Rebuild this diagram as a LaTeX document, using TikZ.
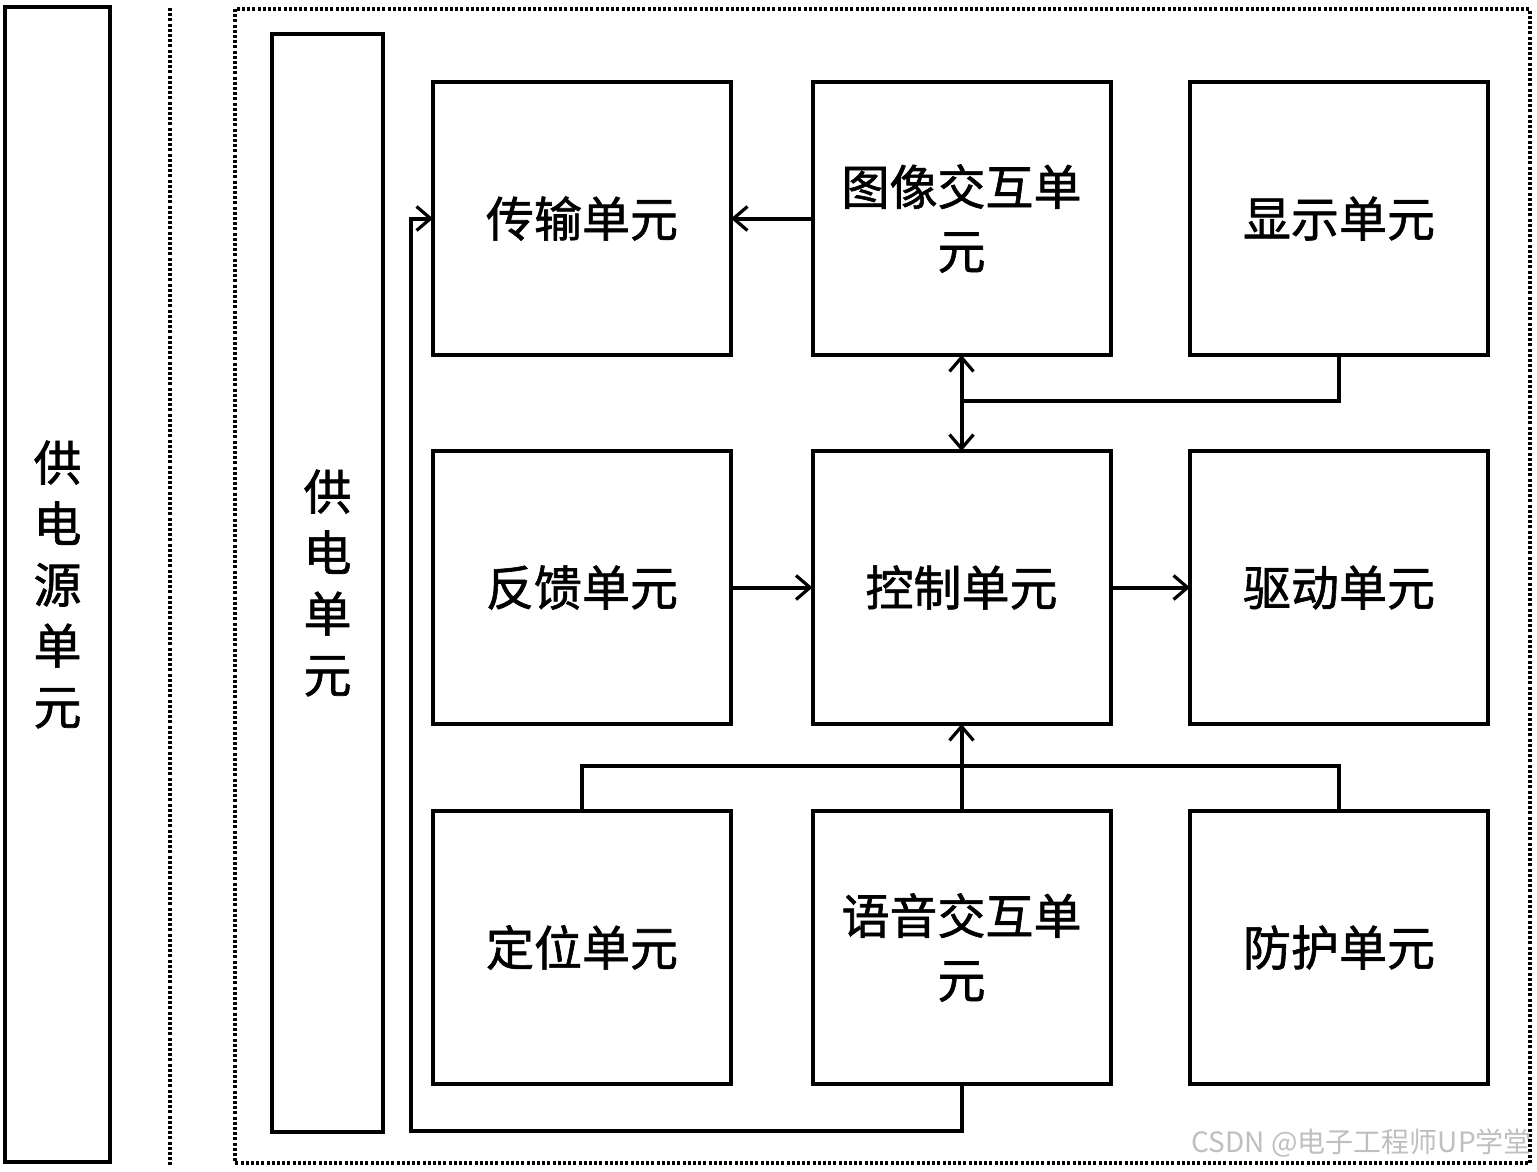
\documentclass[tikz,border=0pt]{standalone}
\usepackage{fontspec}
\newfontfamily\cjk[FakeBold=1.3]{Noto Sans CJK SC}
\newfontfamily\cjkwm{Noto Sans CJK SC}
\usetikzlibrary{arrows.meta}
\begin{document}
\begin{tikzpicture}[x=1pt,y=-1pt,
  unitbox/.style={draw,line width=4pt,minimum width=298pt,minimum height=273pt,outer sep=0pt,
    align=center,font=\cjk\fontsize{48}{64}\selectfont},
  tallbox/.style={draw,line width=4pt,outer sep=0pt,align=center,font=\cjk\fontsize{48}{61}\selectfont},
  ln/.style={line width=4pt},
  arr/.style={line width=4pt,-{Straight Barb[length=14pt,width=24pt,line width=3.2pt]}},
  arrb/.style={line width=4pt,{Straight Barb[length=14pt,width=24pt,line width=3.2pt]}-{Straight Barb[length=14pt,width=24pt,line width=3.2pt]}},
  dotline/.style={line width=3.2pt,dash pattern=on 3pt off 2.2pt}]
\useasboundingbox (0,0) rectangle (1537,1171);
% left power source
\node[tallbox,minimum width=105pt,minimum height=1155pt] (src) at (57.5,584.5) {供\\电\\源\\单\\元};
\coordinate (dl1) at (170,8);
\coordinate (dl2) at (170,1166);
\draw[dotline] (dl1) -- (dl2);
\coordinate (fr1) at (235,9);
\coordinate (fr2) at (1530,1163);
\draw[dotline] (fr1) rectangle (fr2);
% power unit
\node[tallbox,minimum width=111pt,minimum height=1098pt] (pwr) at (327.5,583) {供\\电\\单\\元};
% grid
\node[unitbox] (trans) at (582,218.5) {传输单元};
\node[unitbox] (img) at (961.5,218.5) {图像交互单\\元};
\node[unitbox] (disp) at (1339,218.5) {显示单元};
\node[unitbox] (fb) at (582,587.5) {反馈单元};
\node[unitbox] (ctrl) at (961.5,587.5) {控制单元};
\node[unitbox] (drv) at (1339,587.5) {驱动单元};
\node[unitbox] (pos) at (582,947.5) {定位单元};
\node[unitbox] (voice) at (961.5,947.5) {语音交互单\\元};
\node[unitbox] (prot) at (1339,947.5) {防护单元};
% connectors
\draw[arr] (img.west) -- (trans.east);
\draw[arrb] (img.south) -- (ctrl.north);
\coordinate (j1) at (961.5,401);
\draw[ln] (disp.south) |- (j1);
\draw[arr] (fb.east) -- (ctrl.west);
\draw[arr] (ctrl.east) -- (drv.west);
\draw[arr] (voice.north) -- (ctrl.south);
\draw[ln] (pos.north) -- ++(0,-45) -| (prot.north);
\coordinate (lp) at (411,1131);
\draw[arr] (voice.south) |- (lp) |- (trans.west);
% watermark
\node[text=black!25,font=\cjkwm\fontsize{28}{28}\selectfont,anchor=east,inner sep=0pt] (wm) at (1532,1143) {CSDN @电子工程师UP学堂};
\end{tikzpicture}
\end{document}
